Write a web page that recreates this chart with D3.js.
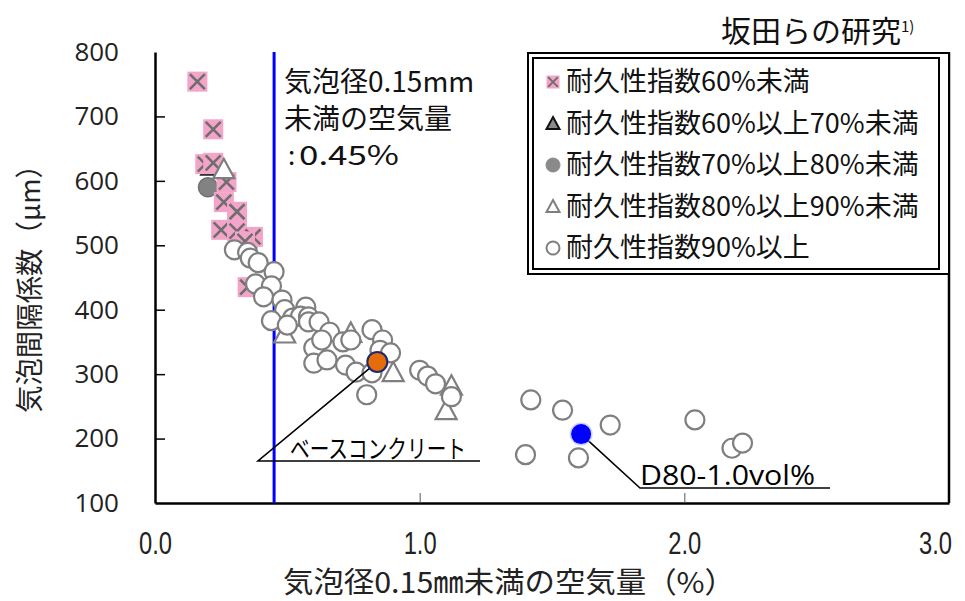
<!DOCTYPE html>
<html>
<head>
<meta charset="utf-8">
<script src="https://cdn.jsdelivr.net/npm/d3@7"></script>
<style>
  html, body { margin: 0; padding: 0; background: #fff; }
  svg { display: block; }
</style>
</head>
<body>
<script>
// Air content of bubbles < 0.15 mm (%) vs. bubble spacing factor (µm)
const xTicks = [0, 1, 2, 3];
const yTicks = [100, 200, 300, 400, 500, 600, 700, 800];

const seriesNames = [
  "耐久性指数60%未満",
  "耐久性指数60%以上70%未満",
  "耐久性指数70%以上80%未満",
  "耐久性指数80%以上90%未満",
  "耐久性指数90%以上"
];

// durability index < 60%
const durUnder60 = [
  [0.16, 754], [0.22, 680], [0.19, 626], [0.22, 628], [0.27, 598],
  [0.26, 567], [0.31, 552], [0.25, 524], [0.31, 522], [0.37, 513],
  [0.34, 506], [0.35, 435]
];
// durability index 60–70%
const dur60to70 = [[0.21, 622]];
// durability index 70–80%
const dur70to80 = [[0.20, 590], [0.35, 500]];
// durability index 80–90%
const dur80to90 = [
  [0.26, 618], [0.49, 363], [0.74, 364], [0.90, 303], [1.12, 282], [1.10, 244]
];
// durability index >= 90%
const durOver90 = [
  [0.30, 493], [0.35, 489], [0.36, 480], [0.39, 473], [0.45, 459],
  [0.38, 440], [0.44, 437], [0.41, 420], [0.48, 415], [0.49, 400],
  [0.57, 404], [0.52, 387], [0.55, 390], [0.58, 389], [0.44, 383],
  [0.50, 376], [0.58, 381], [0.62, 381], [0.66, 365], [0.71, 350],
  [0.74, 353], [0.60, 341], [0.63, 353], [0.60, 317], [0.65, 322],
  [0.72, 314], [0.76, 303], [0.82, 369], [0.86, 353], [0.85, 337],
  [0.89, 333], [0.82, 302], [0.80, 268], [1.00, 306], [1.03, 297],
  [1.06, 285], [1.12, 265],
  [1.42, 260], [1.54, 244], [1.72, 221], [1.40, 175], [1.60, 170],
  [2.04, 229], [2.18, 185], [2.22, 193]
];
// highlighted mixes
const baseConcrete = [0.84, 319];
const d80 = [1.61, 207];
const thresholdAir = 0.45;

const W = 965, H = 601;
const CJK = "'Noto Sans CJK JP', 'Noto Sans', sans-serif";
const LATIN = "'Open Sans', 'Noto Sans', sans-serif";

const x = d3.scaleLinear().domain([0, 3]).range([155, 949]);
const y = d3.scaleLinear().domain([100, 800]).range([503, 52]);

const svg = d3.select("body").append("svg")
  .attr("width", W).attr("height", H)
  .style("background", "#fff");

// Axes
const yAxis = d3.axisLeft(y).tickValues(yTicks)
  .tickSizeInner(-10).tickSizeOuter(0).tickPadding(36)
  .tickFormat(d3.format("d"));
const gy = svg.append("g").attr("transform", `translate(${x(0)},0)`).call(yAxis);
gy.select(".domain").attr("stroke", "#000").attr("stroke-width", 2.5);
gy.selectAll(".tick line").attr("stroke", "#000").attr("stroke-width", 1.5)
  .filter(d => d === 100 || d === 800).remove();
gy.selectAll(".tick text").attr("font-family", LATIN).attr("font-size", 26).attr("fill", "#222");

const xAxis = d3.axisBottom(x).tickValues(xTicks)
  .tickSizeInner(-10).tickSizeOuter(0).tickPadding(29)
  .tickFormat(d3.format(".1f"));
const gx = svg.append("g").attr("transform", `translate(0,${y(100)})`).call(xAxis);
gx.select(".domain").attr("stroke", "#000").attr("stroke-width", 2.5);
gx.selectAll(".tick line").attr("stroke", "#555").attr("stroke-width", 1)
  .filter(d => d === 0 || d === 3).remove();
// tall, condensed numerals
gx.selectAll(".tick text")
  .attr("font-family", "'Liberation Sans', sans-serif").attr("font-size", 31).attr("fill", "#222")
  .attr("textLength", 33).attr("lengthAdjust", "spacingAndGlyphs")
  .attr("x", d => d === 3 ? -14 : 0);

// right frame edge
svg.append("line")
  .attr("x1", x(3)).attr("x2", x(3)).attr("y1", y(800)).attr("y2", y(100))
  .attr("stroke", "#000").attr("stroke-width", 2.5);

// threshold line at 0.45%
svg.append("line")
  .attr("x1", x(thresholdAir)).attr("x2", x(thresholdAir))
  .attr("y1", y(800)).attr("y2", y(100))
  .attr("stroke", "#0000ff").attr("stroke-width", 3);

// Marker painters
const GRAY = "#7f7f7f";
function pinkX(g, size) {
  const h = size / 2;
  g.append("rect").attr("x", -h).attr("y", -h).attr("width", size).attr("height", size)
    .attr("fill", "#f4a3c9");
  const k = h * 0.75;
  g.append("path").attr("d", `M${-k},${-k}L${k},${k}M${-k},${k}L${k},${-k}`)
    .attr("stroke", "#6e6e6e").attr("stroke-width", size > 15 ? 2.6 : 2);
}
function triangle(g, size, fill, stroke, sw) {
  const h = size / 2;
  g.append("path").attr("d", `M0,${-h}L${h},${h * 0.85}L${-h},${h * 0.85}Z`)
    .attr("fill", fill).attr("stroke", stroke).attr("stroke-width", sw)
    .attr("stroke-linejoin", "miter");
}
function circle(g, r, fill, stroke, sw) {
  g.append("circle").attr("r", r).attr("fill", fill)
    .attr("stroke", stroke).attr("stroke-width", sw);
}

const plot = svg.append("g");
function drawSeries(data, painter) {
  plot.append("g").selectAll("g").data(data).join("g")
    .attr("transform", d => `translate(${x(d[0])},${y(d[1])})`)
    .each(function () { painter(d3.select(this)); });
}
drawSeries(dur70to80, g => circle(g, 9.5, "#828282", "#707070", 1.5));
drawSeries(dur60to70, g => triangle(g, 19, "#888", "#222", 2));
drawSeries(durUnder60, g => pinkX(g, 20));
drawSeries(dur80to90, g => triangle(g, 21, "#fff", GRAY, 2.2));
drawSeries(durOver90, g => circle(g, 9.5, "#fff", GRAY, 2.2));

// callout lines
const leader = d3.line();
svg.append("path")
  .attr("d", leader([[x(baseConcrete[0]), y(baseConcrete[1])], [258, 461], [480, 461]]))
  .attr("fill", "none").attr("stroke", "#000").attr("stroke-width", 1.6);
svg.append("path")
  .attr("d", leader([[x(d80[0]), y(d80[1])], [640, 488], [830, 488]]))
  .attr("fill", "none").attr("stroke", "#000").attr("stroke-width", 1.6);

// highlighted points
svg.append("circle").attr("cx", x(baseConcrete[0])).attr("cy", y(baseConcrete[1])).attr("r", 10)
  .attr("fill", "#e46c0a").attr("stroke", "#1f2a6e").attr("stroke-width", 2);
svg.append("circle").attr("cx", x(d80[0])).attr("cy", y(d80[1])).attr("r", 11.5)
  .attr("fill", "#9aa7ff").attr("opacity", 0.5);
svg.append("circle").attr("cx", x(d80[0])).attr("cy", y(d80[1])).attr("r", 10)
  .attr("fill", "#0000ff");

// callout texts
svg.append("text").attr("x", 290).attr("y", 458)
  .attr("font-family", CJK).attr("font-size", 25).attr("fill", "#000")
  .attr("textLength", 176).attr("lengthAdjust", "spacingAndGlyphs")
  .text("ベースコンクリート");
svg.append("text").attr("x", 640).attr("y", 485)
  .attr("font-family", LATIN).attr("font-size", 28).attr("fill", "#000")
  .attr("textLength", 175).attr("lengthAdjust", "spacingAndGlyphs")
  .text("D80-1.0vol%");

// threshold annotation
const ann = svg.append("g").attr("font-family", CJK).attr("fill", "#111");
ann.append("text").attr("x", 284).attr("y", 92).attr("font-size", 28).text("気泡径0.15mm");
ann.append("text").attr("x", 284).attr("y", 129).attr("font-size", 28).text("未満の空気量");
ann.append("text").attr("x", 288).attr("y", 165).attr("font-size", 26).text(":");
ann.append("text").attr("x", 299).attr("y", 165).attr("font-size", 27)
  .attr("textLength", 100).attr("lengthAdjust", "spacingAndGlyphs")
  .text("0.45%");

// Legend (double frame)
svg.append("rect").attr("x", 528).attr("y", 53).attr("width", 949 - 528).attr("height", 274 - 53)
  .attr("fill", "#fff").attr("stroke", "#000").attr("stroke-width", 2);
svg.append("rect").attr("x", 533).attr("y", 58).attr("width", 939 - 533).attr("height", 269 - 58)
  .attr("fill", "none").attr("stroke", "#000").attr("stroke-width", 2);

const legendPainters = [
  g => pinkX(g, 13),
  g => triangle(g, 13, "#8a8a8a", "#111", 2),
  g => circle(g, 7, "#8a8a8a", "#8a8a8a", 1),
  g => triangle(g, 13, "#fff", GRAY, 2),
  g => circle(g, 6.5, "#fff", GRAY, 2)
];
const leg = svg.append("g").selectAll("g").data(seriesNames).join("g")
  .attr("transform", (d, i) => `translate(553,${82 + i * 41.5})`);
leg.each(function (d, i) { legendPainters[i](d3.select(this)); });
leg.append("text").attr("x", 13).attr("dy", "0.35em")
  .attr("font-family", CJK).attr("font-size", 27).attr("fill", "#111")
  .text(d => d);

// Axis titles
svg.append("text")
  .attr("transform", `translate(30,282) rotate(-90)`)
  .attr("text-anchor", "middle").attr("dy", "0.35em")
  .attr("font-family", CJK).attr("font-size", 28).attr("fill", "#222")
  .attr("textLength", 262).attr("lengthAdjust", "spacingAndGlyphs")
  .text("気泡間隔係数（μm）");
svg.append("text").attr("x", 509).attr("y", 593)
  .attr("text-anchor", "middle")
  .attr("font-family", CJK).attr("font-size", 29).attr("fill", "#222")
  .attr("textLength", 452).attr("lengthAdjust", "spacingAndGlyphs")
  .text("気泡径0.15㎜未満の空気量（%）");

// source note
const src = svg.append("text").attr("x", 721).attr("y", 42)
  .attr("font-family", CJK).attr("font-size", 30).attr("fill", "#111");
src.append("tspan").text("坂田らの研究");
src.append("tspan").attr("font-size", 15).attr("dy", -10).text("1)");
</script>
</body>
</html>
